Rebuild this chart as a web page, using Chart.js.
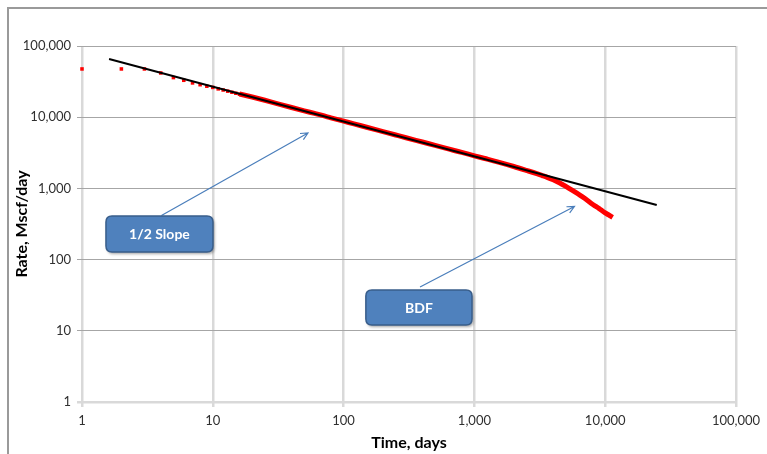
<!DOCTYPE html>
<html>
<head>
<meta charset="utf-8">
<script src="https://cdn.jsdelivr.net/npm/chart.js@4.4.1/dist/chart.umd.min.js"></script>
<style>
    html, body { margin: 0; padding: 0; background: #fff; }
    #wrap { width: 767px; height: 454px; }
</style>
</head>
<body>
<div id="wrap"><canvas id="rateChart" width="767" height="454"></canvas></div>
<script>
// tick values for both log axes
const tickVals = [1, 10, 100, 1000, 10000, 100000];

// straight 1/2 slope line (start, end)
const slopeTime = [1.61, 24770];
const slopeRate = [65700, 585];

// early production, discrete points
const earlyTime = [1, 2, 3, 4, 5, 6, 7, 8, 9, 10, 11, 12, 13, 14, 15, 16];
const earlyRate = [47600, 47600, 47600, 41800, 36000, 33000, 30300, 28600, 27200, 26200, 25000, 24100, 23200, 22400, 21700, 21000];

// later production, dense daily data (drawn as a thick band)
const lateTime = [16, 20, 25, 30, 40, 50, 60, 70, 80, 100, 120, 150, 200, 250, 300, 400, 500, 600, 700, 800,
    1000, 1200, 1500, 2000, 2500, 3000, 3300, 3600, 4000, 4500, 5000, 5700, 6400, 7000, 8100, 9000, 9700, 10500, 11400];
const lateRate = [21200, 19200, 17300, 15800, 13700, 12300, 11300, 10500, 9800, 8800, 8050, 7230, 6280, 5630, 5150, 4480, 4020, 3680, 3410, 3200,
    2870, 2630, 2360, 2030, 1790, 1610, 1515, 1430, 1320, 1190, 1065, 920, 805, 720, 590, 520, 470, 430, 393];

// callouts: box corners and arrow ends in data units
const callouts = [
    { text: '1/2 Slope', box: [1.525, 410, 10.03, 128], from: [4.05, 416], to: [53.4, 6000] },
    { text: 'BDF', box: [148, 37.4, 959, 12.1], from: [384, 41.2], to: [5820, 557] }
];

const pts = (xs, ys) => xs.map((x, i) => ({ x: x, y: ys[i] }));
const fmt = v => v.toLocaleString('en-US');

const frame = {
    id: 'frame',
    beforeDraw(chart) {
        const c = chart.ctx;
        c.save();
        c.strokeStyle = '#9a9a9a';
        c.lineWidth = 2;
        c.beginPath();
        c.moveTo(8, 454);
        c.lineTo(8, 8);
        c.lineTo(767, 8);
        c.stroke();
        c.restore();
    }
};

function roundRect(c, x, y, w, h, r) {
    c.beginPath();
    c.moveTo(x + r, y);
    c.lineTo(x + w - r, y);
    c.quadraticCurveTo(x + w, y, x + w, y + r);
    c.lineTo(x + w, y + h - r);
    c.quadraticCurveTo(x + w, y + h, x + w - r, y + h);
    c.lineTo(x + r, y + h);
    c.quadraticCurveTo(x, y + h, x, y + h - r);
    c.lineTo(x, y + r);
    c.quadraticCurveTo(x, y, x + r, y);
    c.closePath();
}

const calloutPlugin = {
    id: 'callouts',
    afterDatasetsDraw(chart) {
        const c = chart.ctx;
        const sx = chart.scales.x, sy = chart.scales.y;
        callouts.forEach(co => {
            // arrow
            const x0 = sx.getPixelForValue(co.from[0]), y0 = sy.getPixelForValue(co.from[1]);
            const x1 = sx.getPixelForValue(co.to[0]), y1 = sy.getPixelForValue(co.to[1]);
            const ang = Math.atan2(y1 - y0, x1 - x0);
            c.save();
            c.strokeStyle = '#4a7ebb';
            c.lineWidth = 1.2;
            c.beginPath();
            c.moveTo(x0, y0);
            c.lineTo(x1, y1);
            c.moveTo(x1 - 8 * Math.cos(ang - 0.45), y1 - 8 * Math.sin(ang - 0.45));
            c.lineTo(x1, y1);
            c.lineTo(x1 - 8 * Math.cos(ang + 0.45), y1 - 8 * Math.sin(ang + 0.45));
            c.stroke();

            // box
            const bx = sx.getPixelForValue(co.box[0]), by = sy.getPixelForValue(co.box[1]);
            const bw = sx.getPixelForValue(co.box[2]) - bx, bh = sy.getPixelForValue(co.box[3]) - by;
            c.shadowColor = 'rgba(0,0,0,0.35)';
            c.shadowBlur = 3;
            c.shadowOffsetX = 1.5;
            c.shadowOffsetY = 2;
            roundRect(c, bx, by, bw, bh, 6);
            c.fillStyle = '#4f81bd';
            c.fill();
            c.shadowColor = 'transparent';
            c.strokeStyle = '#385d8a';
            c.lineWidth = 1.5;
            c.stroke();
            c.fillStyle = '#ffffff';
            c.font = 'bold 14px Lato, "Open Sans", sans-serif';
            c.textAlign = 'center';
            c.textBaseline = 'middle';
            c.fillText(co.text, bx + bw / 2, by + bh / 2 + 1);
            c.restore();
        });
    }
};

const logAxis = (extra) => Object.assign({
    type: 'logarithmic',
    min: 1,
    max: 100000,
    afterBuildTicks: scale => { scale.ticks = tickVals.map(v => ({ value: v })); },
    border: { display: false }
}, extra);

new Chart(document.getElementById('rateChart'), {
    type: 'scatter',
    data: {
        datasets: [
            {
                label: 'Slope',
                data: pts(slopeTime, slopeRate),
                showLine: true,
                borderColor: '#000000',
                borderWidth: 2,
                pointRadius: 0,
                order: 0
            },
            {
                label: 'Late',
                data: pts(lateTime, lateRate),
                showLine: true,
                borderColor: '#ff0000',
                borderWidth: 5,
                cubicInterpolationMode: 'monotone',
                pointRadius: 0,
                order: 1
            },
            {
                label: 'Early',
                data: pts(earlyTime, earlyRate),
                showLine: false,
                backgroundColor: '#ff0000',
                borderColor: '#ff0000',
                pointStyle: 'rect',
                pointRadius: 2.5,
                borderWidth: 0,
                clip: false,
                order: 2
            }
        ]
    },
    options: {
        responsive: false,
        animation: false,
        layout: { padding: { top: 46, right: 31, left: 0, bottom: 0 } },
        plugins: { legend: { display: false }, tooltip: { enabled: false } },
        scales: {
            x: logAxis({
                afterFit: s => { s.height = 52; },
                grid: { color: '#d9d9d9', lineWidth: 2.5, tickLength: 5 },
                ticks: {
                    color: '#303030',
                    font: { family: 'Lato', size: 13 },
                    padding: 6,
                    maxRotation: 0,
                    autoSkip: false,
                    callback: v => fmt(v)
                },
                title: {
                    display: true,
                    text: 'Time, days',
                    color: '#000',
                    font: { family: 'Lato', size: 16, weight: 'bold' },
                    padding: { top: 0, bottom: 1.5 }
                }
            }),
            y: logAxis({
                afterFit: s => { s.width = 82; },
                grid: {
                    color: ctx => ctx.tick && ctx.tick.value === 1 ? '#d9d9d9' : '#a6a6a6',
                    lineWidth: ctx => ctx.tick && ctx.tick.value === 1 ? 2.5 : 1,
                    tickLength: 5
                },
                ticks: {
                    color: '#303030',
                    font: { family: 'Lato', size: 13 },
                    padding: 6,
                    autoSkip: false,
                    callback: v => fmt(v)
                },
                title: {
                    display: true,
                    text: 'Rate, Mscf/day',
                    color: '#000',
                    font: { family: 'Lato', size: 16, weight: 'bold' },
                    padding: { top: 12, bottom: 0 }
                }
            })
        }
    },
    plugins: [frame, calloutPlugin]
});
</script>
</body>
</html>
